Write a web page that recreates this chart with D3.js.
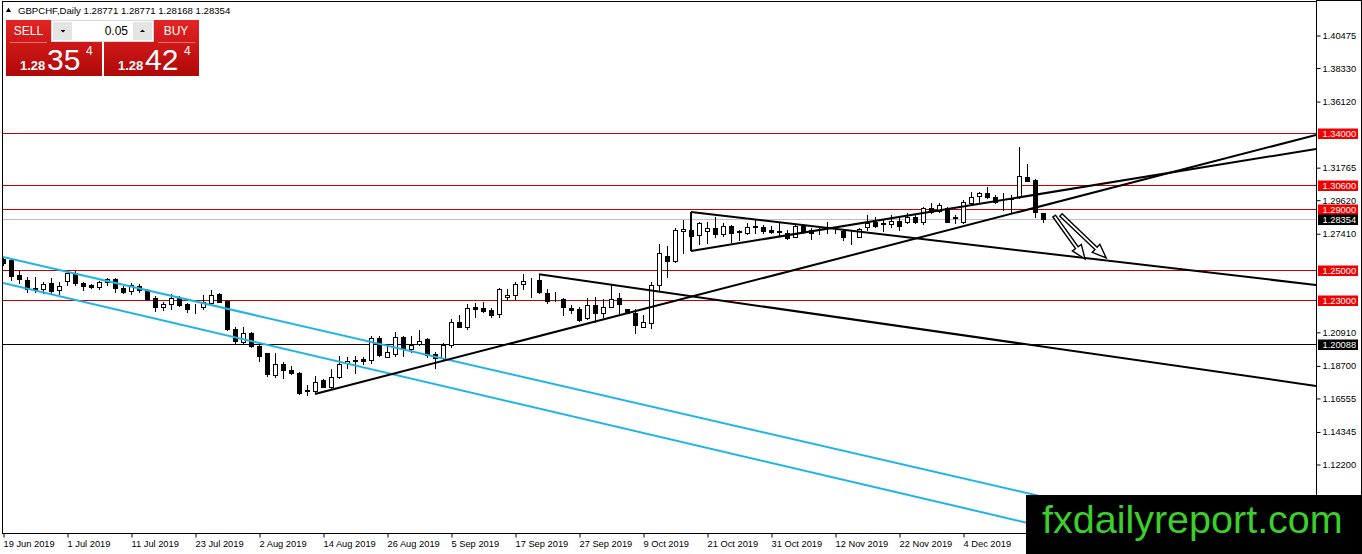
<!DOCTYPE html>
<html lang="en">
<head>
<meta charset="utf-8">
<title>GBPCHF, Daily</title>
<script src="https://d3js.org/d3.v7.min.js"></script>
<style>
  html, body { margin: 0; padding: 0; background: #fff; overflow: hidden; }
  svg { display: block; font-family: "Liberation Sans", Arial, sans-serif; }
  .axis text { font-size: 9.3px; fill: #000; font-family: "Liberation Sans", Arial, sans-serif; }
  .axis line { stroke: #000; }
  .level-text { font-size: 9.3px; fill: #fff; }
</style>
</head>
<body>
<svg id="chart" width="1362" height="554"></svg>
<script>
// ---- data ----
const symbol = 'GBPCHF,Daily';
const headerValues = ['1.28771', '1.28771', '1.28168', '1.28354'];
const sellPrice = ['1.28', '35', '4'];
const buyPrice = ['1.28', '42', '4'];
const lotSize = '0.05';

// one bar per trading day, 19 Jun 2019 .. 18 Dec 2019
const opens = [
  1.2569, 1.2564, 1.2466, 1.2433, 1.2382, 1.2371, 1.2411, 1.2367, 1.2428, 1.2481,
  1.2411, 1.2400, 1.2384, 1.2417, 1.2437, 1.2382, 1.2362, 1.2393, 1.2367, 1.2314,
  1.2252, 1.2274, 1.2316, 1.2274, 1.2248, 1.2252, 1.2283, 1.2340, 1.2296, 1.2107,
  1.2026, 1.2081, 1.2000, 1.1949, 1.1806, 1.1877, 1.1839, 1.1817, 1.1703, 1.1699,
  1.1774, 1.1725, 1.1791, 1.1883, 1.1899, 1.1910, 1.1905, 1.2048, 1.1927, 1.1945,
  1.2055, 1.1976, 1.2011, 1.2044, 1.1945, 1.1916, 1.2004, 1.2158, 1.2125, 1.2252,
  1.2246, 1.2235, 1.2206, 1.2318, 1.2334, 1.2404, 1.2430, 1.2432, 1.2349, 1.2303,
  1.2305, 1.2246, 1.2239, 1.2180, 1.2268, 1.2217, 1.2257, 1.2312, 1.2239, 1.2217,
  1.2125, 1.2151, 1.2400, 1.2591, 1.2560, 1.2758, 1.2762, 1.2729, 1.2756, 1.2773,
  1.2734, 1.2791, 1.2758, 1.2740, 1.2782, 1.2780, 1.2762, 1.2751, 1.2745, 1.2718,
  1.2789, 1.2762, 1.2762, 1.2766, 1.2764, 1.2758, 1.2727, 1.2718, 1.2780, 1.2817,
  1.2804, 1.2804, 1.2824, 1.2817, 1.2846, 1.2817, 1.2905, 1.2890, 1.2905, 1.2843,
  1.2817, 1.2942, 1.2986, 1.3004, 1.2977, 1.2958, 1.2969, 1.2977, 1.3109, 1.3092,
  1.28771
];
const highs = [
  1.2582, 1.2569, 1.2494, 1.2455, 1.2455, 1.2422, 1.2444, 1.2422, 1.2488, 1.2494,
  1.2422, 1.2406, 1.2426, 1.2444, 1.2444, 1.2393, 1.2411, 1.2404, 1.2373, 1.2327,
  1.2290, 1.2340, 1.2327, 1.2283, 1.2274, 1.2334, 1.2367, 1.2349, 1.2301, 1.2121,
  1.2121, 1.2092, 1.2015, 1.1954, 1.1949, 1.1894, 1.1868, 1.1828, 1.1741, 1.1802,
  1.1778, 1.1844, 1.1932, 1.1927, 1.1932, 1.1927, 1.2063, 1.2063, 1.2004, 1.2092,
  1.2063, 1.2063, 1.2103, 1.2048, 1.1960, 1.2019, 1.2173, 1.2202, 1.2274, 1.2283,
  1.2290, 1.2246, 1.2378, 1.2371, 1.2422, 1.2472, 1.2443, 1.2470, 1.2371, 1.2356,
  1.2312, 1.2268, 1.2252, 1.2312, 1.2323, 1.2305, 1.2399, 1.2349, 1.2243, 1.2239,
  1.2202, 1.2422, 1.2670, 1.2657, 1.2773, 1.2828, 1.2766, 1.2817, 1.2817, 1.2846,
  1.2806, 1.2795, 1.2762, 1.2811, 1.2828, 1.2795, 1.2789, 1.2806, 1.2762, 1.2795,
  1.2795, 1.2773, 1.2780, 1.2817, 1.2780, 1.2766, 1.2758, 1.2773, 1.2861, 1.2846,
  1.2832, 1.2861, 1.2839, 1.2876, 1.2861, 1.2916, 1.2938, 1.2938, 1.2916, 1.2861,
  1.2960, 1.3015, 1.3015, 1.3048, 1.2993, 1.3004, 1.2993, 1.3311, 1.3197, 1.3096,
  1.28771
];
const lows = [
  1.2529, 1.2433, 1.2411, 1.2356, 1.2356, 1.2345, 1.2345, 1.2340, 1.2400, 1.2400,
  1.2367, 1.2380, 1.2375, 1.2400, 1.2356, 1.2345, 1.2340, 1.2356, 1.2301, 1.2230,
  1.2235, 1.2241, 1.2261, 1.2224, 1.2217, 1.2244, 1.2274, 1.2288, 1.2103, 1.2011,
  1.2020, 1.1993, 1.1901, 1.1802, 1.1791, 1.1784, 1.1813, 1.1681, 1.1675, 1.1686,
  1.1725, 1.1719, 1.1784, 1.1850, 1.1822, 1.1879, 1.1883, 1.1932, 1.1923, 1.1932,
  1.1932, 1.1960, 1.2004, 1.1927, 1.1850, 1.1912, 1.1993, 1.2121, 1.2107, 1.2191,
  1.2224, 1.2191, 1.2191, 1.2301, 1.2305, 1.2371, 1.2323, 1.2345, 1.2283, 1.2294,
  1.2202, 1.2213, 1.2164, 1.2173, 1.2158, 1.2187, 1.2252, 1.2213, 1.2213, 1.2085,
  1.2121, 1.2114, 1.2367, 1.2455, 1.2553, 1.2608, 1.2718, 1.2670, 1.2679, 1.2718,
  1.2723, 1.2685, 1.2696, 1.2734, 1.2740, 1.2745, 1.2740, 1.2729, 1.2703, 1.2714,
  1.2745, 1.2701, 1.2736, 1.2740, 1.2740, 1.2696, 1.2670, 1.2714, 1.2762, 1.2780,
  1.2758, 1.2780, 1.2762, 1.2806, 1.2811, 1.2802, 1.2876, 1.2883, 1.2815, 1.2806,
  1.2811, 1.2927, 1.2949, 1.2971, 1.2942, 1.2894, 1.2872, 1.2971, 1.3085, 1.2846,
  1.28168
];
const closes = [
  1.2542, 1.2461, 1.2437, 1.2371, 1.2367, 1.2406, 1.2360, 1.2393, 1.2477, 1.2411,
  1.2395, 1.2384, 1.2417, 1.2437, 1.2378, 1.2356, 1.2397, 1.2367, 1.2310, 1.2252,
  1.2274, 1.2312, 1.2266, 1.2244, 1.2250, 1.2288, 1.2334, 1.2290, 1.2107, 1.2031,
  1.2081, 1.2000, 1.1934, 1.1811, 1.1877, 1.1839, 1.1822, 1.1686, 1.1705, 1.1763,
  1.1730, 1.1791, 1.1879, 1.1899, 1.1903, 1.1896, 1.2048, 1.1938, 1.1960, 1.2055,
  1.1982, 1.2004, 1.2030, 1.1938, 1.1916, 1.2004, 1.2158, 1.2125, 1.2246, 1.2244,
  1.2228, 1.2202, 1.2371, 1.2334, 1.2404, 1.2428, 1.2435, 1.2356, 1.2296, 1.2301,
  1.2252, 1.2235, 1.2169, 1.2268, 1.2217, 1.2252, 1.2305, 1.2274, 1.2217, 1.2136,
  1.2158, 1.2400, 1.2608, 1.2560, 1.2762, 1.2766, 1.2725, 1.2806, 1.2773, 1.2734,
  1.2791, 1.2740, 1.2751, 1.2784, 1.2786, 1.2758, 1.2747, 1.2753, 1.2712, 1.2789,
  1.2751, 1.2745, 1.2760, 1.2769, 1.2762, 1.2718, 1.2731, 1.2766, 1.2811, 1.2789,
  1.2808, 1.2824, 1.2789, 1.2846, 1.2817, 1.2905, 1.2883, 1.2927, 1.2817, 1.2848,
  1.2949, 1.2982, 1.3008, 1.2977, 1.2949, 1.2962, 1.2973, 1.3118, 1.3087, 1.2883,
  1.28354
];

// a date label every 8 bars
const labelStep = 8;
const dateLabels = ['19 Jun 2019', '1 Jul 2019', '11 Jul 2019', '23 Jul 2019', '2 Aug 2019',
  '14 Aug 2019', '26 Aug 2019', '5 Sep 2019', '17 Sep 2019', '27 Sep 2019', '9 Oct 2019',
  '21 Oct 2019', '31 Oct 2019', '12 Nov 2019', '22 Nov 2019', '4 Dec 2019'];

const priceTicks = [1.40475, 1.38330, 1.36120, 1.31765, 1.29620, 1.27410,
  1.20910, 1.18700, 1.16555, 1.14345, 1.12200, 1.10055];

const redLevels = [1.34000, 1.30600, 1.29000, 1.25000, 1.23000];
const blackLevel = 1.20088;
const bidPrice = 1.28354;

// trend lines: [bar, price] anchors, rays run on to the right edge
const blackLines = [
  { from: [39, 1.1681], to: [130, 1.2923], ray: true },
  { from: [67, 1.2470], to: [130, 1.1993], ray: true },
  { from: [86, 1.2881], to: [130, 1.2610], ray: true },
  { from: [86, 1.2624], to: [130, 1.3003], ray: true },
  { from: [86, 1.2881], to: [86, 1.2624], ray: false }
];
const channelLines = [
  { from: [0, 1.2584], to: [130, 1.1004], ray: true },
  { from: [0, 1.2413], to: [130, 1.0808], ray: true }
];
const arrows = [
  { from: [131.4, 1.2854], to: [135.25, 1.2571] },
  { from: [132.25, 1.2861], to: [137.9, 1.2578] }
];

// ---- drawing ----
const W = 1362, H = 554;
const plotLeft = 2, plotTop = 1, plotRight = 1316, plotBottom = 533;

const svg = d3.select('#chart');

const x = d3.scaleLinear().domain([0, 164.125]).range([3, 1316]);
const y = d3.scaleLinear().domain([1.12200, 1.40475]).range([464, 35]);
const xMax = x.domain()[1];

svg.append('defs').append('clipPath').attr('id', 'plot-clip')
  .append('rect')
  .attr('x', plotLeft + 1).attr('y', plotTop + 1)
  .attr('width', plotRight - plotLeft - 1).attr('height', plotBottom - plotTop - 1);

svg.append('rect').attr('width', W).attr('height', H).attr('fill', '#fff');

const plot = svg.append('g').attr('clip-path', 'url(#plot-clip)');

// horizontal levels
const levelG = plot.append('g');
levelG.append('line')
  .attr('x1', plotLeft).attr('x2', plotRight)
  .attr('y1', Math.round(y(bidPrice)) + 0.5).attr('y2', Math.round(y(bidPrice)) + 0.5)
  .attr('stroke', '#c0c0c0');
levelG.selectAll('.red-level')
  .data(redLevels)
  .enter().append('line')
  .attr('class', 'red-level')
  .attr('x1', plotLeft).attr('x2', plotRight)
  .attr('y1', d => Math.round(y(d)) + 0.5).attr('y2', d => Math.round(y(d)) + 0.5)
  .attr('stroke', '#c40000');
levelG.append('line')
  .attr('x1', plotLeft).attr('x2', plotRight)
  .attr('y1', Math.round(y(blackLevel)) + 0.5).attr('y2', Math.round(y(blackLevel)) + 0.5)
  .attr('stroke', '#000');

// candles
const bars = d3.range(opens.length).map(i => ({
  i: i, o: opens[i], h: highs[i], l: lows[i], c: closes[i]
}));

const candle = plot.selectAll('.candle')
  .data(bars)
  .enter().append('g')
  .attr('class', 'candle');

candle.append('line')
  .attr('x1', d => Math.round(x(d.i)) + 0.5)
  .attr('x2', d => Math.round(x(d.i)) + 0.5)
  .attr('y1', d => Math.round(y(d.h)))
  .attr('y2', d => Math.round(y(d.l)) + 1)
  .attr('stroke', '#000');

candle.append('rect')
  .attr('x', d => Math.round(x(d.i)) - 1.5)
  .attr('y', d => Math.round(y(Math.max(d.o, d.c))) + 0.5)
  .attr('width', 4)
  .attr('height', d => Math.max(0, Math.round(y(Math.min(d.o, d.c))) - Math.round(y(Math.max(d.o, d.c)))))
  .attr('fill', d => d.c >= d.o ? '#fff' : '#000')
  .attr('stroke', '#000');

// trend lines
function lineEnds(t) {
  const [i1, p1] = t.from, [i2, p2] = t.to;
  if (!t.ray) return [[x(i1), y(p1)], [x(i2), y(p2)]];
  const slope = (p2 - p1) / (i2 - i1);
  return [[x(i1), y(p1)], [x(xMax), y(p1 + slope * (xMax - i1))]];
}

plot.selectAll('.channel')
  .data(channelLines)
  .enter().append('line')
  .attr('class', 'channel')
  .attr('x1', d => lineEnds(d)[0][0]).attr('y1', d => lineEnds(d)[0][1])
  .attr('x2', d => lineEnds(d)[1][0]).attr('y2', d => lineEnds(d)[1][1])
  .attr('stroke', '#1fb4e8')
  .attr('stroke-width', 2);

plot.selectAll('.trend')
  .data(blackLines)
  .enter().append('line')
  .attr('class', 'trend')
  .attr('x1', d => lineEnds(d)[0][0]).attr('y1', d => lineEnds(d)[0][1])
  .attr('x2', d => lineEnds(d)[1][0]).attr('y2', d => lineEnds(d)[1][1])
  .attr('stroke', '#000')
  .attr('stroke-width', 2);

// hollow arrows
function arrowPoints(a) {
  const sx = x(a.from[0]), sy = y(a.from[1]);
  const tx = x(a.to[0]), ty = y(a.to[1]);
  const len = Math.hypot(tx - sx, ty - sy);
  const ux = (tx - sx) / len, uy = (ty - sy) / len;
  const nx = -uy, ny = ux;
  const hl = 14, hw = 5.5, sw = 1.6;
  const bx = tx - ux * hl, by = ty - uy * hl;
  return [
    [sx + nx * sw, sy + ny * sw], [bx + nx * sw, by + ny * sw], [bx + nx * hw, by + ny * hw],
    [tx, ty],
    [bx - nx * hw, by - ny * hw], [bx - nx * sw, by - ny * sw], [sx - nx * sw, sy - ny * sw]
  ];
}
plot.selectAll('.arrow')
  .data(arrows)
  .enter().append('polygon')
  .attr('class', 'arrow')
  .attr('points', d => arrowPoints(d).map(p => p.join(',')).join(' '))
  .attr('fill', '#fff')
  .attr('stroke', '#000')
  .attr('stroke-width', 1.4)
  .attr('stroke-linejoin', 'miter');

// frame
svg.append('rect')
  .attr('x', plotLeft + 0.5).attr('y', plotTop + 0.5)
  .attr('width', plotRight - plotLeft).attr('height', plotBottom - plotTop)
  .attr('fill', 'none').attr('stroke', '#000');
svg.append('line').attr('x1', plotRight).attr('x2', W).attr('y1', 0.5).attr('y2', 0.5).attr('stroke', '#000');
svg.append('line').attr('x1', W - 0.5).attr('x2', W - 0.5).attr('y1', 0).attr('y2', H).attr('stroke', '#000');

// price axis
const yAxis = d3.axisRight(y)
  .tickValues(priceTicks)
  .tickFormat(d3.format('.5f'))
  .tickSize(4)
  .tickPadding(2);
const yAxisG = svg.append('g')
  .attr('class', 'axis')
  .attr('transform', `translate(${plotRight + 0.5},0.5)`)
  .call(yAxis);
yAxisG.select('.domain').remove();

// date axis
const xAxis = d3.axisBottom(x)
  .tickValues(dateLabels.map((d, k) => k * labelStep))
  .tickFormat((d, k) => dateLabels[k])
  .tickSize(4)
  .tickPadding(3);
const xAxisG = svg.append('g')
  .attr('class', 'axis')
  .attr('transform', `translate(0.5,${plotBottom + 0.5})`)
  .call(xAxis);
xAxisG.select('.domain').remove();
xAxisG.selectAll('text').attr('text-anchor', 'start').attr('x', -0.5);

// level tags on the price axis
const tags = redLevels.map(v => ({ v: v, fill: '#f00000' }))
  .concat([{ v: bidPrice, fill: '#000' }, { v: blackLevel, fill: '#000' }]);
const tag = svg.selectAll('.tag')
  .data(tags)
  .enter().append('g')
  .attr('class', 'tag')
  .attr('transform', d => `translate(${plotRight + 2},${Math.round(y(d.v))})`);
tag.append('rect')
  .attr('x', 0).attr('y', -4.5).attr('width', 40).attr('height', 10.5)
  .attr('fill', d => d.fill);
tag.append('text')
  .attr('class', 'level-text')
  .attr('x', 4.5).attr('y', 1).attr('dy', '0.35em')
  .text(d => d3.format('.5f')(d.v));

// header
svg.append('path').attr('d', 'M6,12 L8.5,7.5 L11,12 Z').attr('fill', '#000');
svg.append('text')
  .attr('x', 18).attr('y', 13.5)
  .attr('font-size', '9.6px')
  .text(symbol + '  ' + headerValues.join(' '));

// one-click trading panel
const grad = svg.select('defs').append('linearGradient')
  .attr('id', 'red-grad').attr('x1', 0).attr('y1', 0).attr('x2', 0).attr('y2', 1);
grad.append('stop').attr('offset', '0%').attr('stop-color', '#e42424');
grad.append('stop').attr('offset', '100%').attr('stop-color', '#b00808');

const panel = svg.append('g');
panel.append('rect').attr('x', 6).attr('y', 20).attr('width', 96).attr('height', 56).attr('fill', 'url(#red-grad)');
panel.append('rect').attr('x', 104).attr('y', 20).attr('width', 95).attr('height', 56).attr('fill', 'url(#red-grad)');
panel.append('rect').attr('x', 51.5).attr('y', 20.5).attr('width', 102).attr('height', 21)
  .attr('fill', '#fff').attr('stroke', '#d8d8d8');
panel.append('rect').attr('x', 53).attr('y', 22).attr('width', 19).attr('height', 18).attr('fill', '#e4e4e4');
panel.append('rect').attr('x', 133).attr('y', 22).attr('width', 19).attr('height', 18).attr('fill', '#e4e4e4');
panel.append('path').attr('d', 'M60.5,30 L65.5,30 L63,32.5 Z').attr('fill', '#000');
panel.append('path').attr('d', 'M140,32 L145,32 L142.5,29.5 Z').attr('fill', '#000');
panel.append('text').attr('x', 128).attr('y', 35).attr('text-anchor', 'end')
  .attr('font-size', '12px').attr('fill', '#000').text(lotSize);
panel.append('line').attr('x1', 10).attr('x2', 47).attr('y1', 42.5).attr('y2', 42.5).attr('stroke', '#f07070');
panel.append('line').attr('x1', 158).attr('x2', 195).attr('y1', 42.5).attr('y2', 42.5).attr('stroke', '#f07070');
panel.append('text').attr('x', 28.5).attr('y', 35).attr('text-anchor', 'middle')
  .attr('font-size', '12px').attr('fill', '#fff').text('SELL');
panel.append('text').attr('x', 176).attr('y', 35).attr('text-anchor', 'middle')
  .attr('font-size', '12px').attr('fill', '#fff').text('BUY');

function bigPrice(x0, parts) {
  panel.append('text').attr('x', x0).attr('y', 70).attr('font-size', '13px')
    .attr('font-weight', 'bold').attr('fill', '#fff').text(parts[0]);
  panel.append('text').attr('x', x0 + 27).attr('y', 70).attr('font-size', '30px')
    .attr('fill', '#fff').text(parts[1]);
  panel.append('text').attr('x', x0 + 66).attr('y', 55).attr('font-size', '12px')
    .attr('fill', '#fff').text(parts[2]);
}
bigPrice(20, sellPrice);
bigPrice(118, buyPrice);

// watermark
svg.append('rect').attr('x', 1026).attr('y', 495).attr('width', W - 1026).attr('height', H - 495).attr('fill', '#000');
svg.append('text')
  .attr('x', 1042).attr('y', 533)
  .attr('font-size', '39.5px')
  .attr('fill', '#3ccf2c')
  .text('fxdailyreport.com');
</script>
</body>
</html>
